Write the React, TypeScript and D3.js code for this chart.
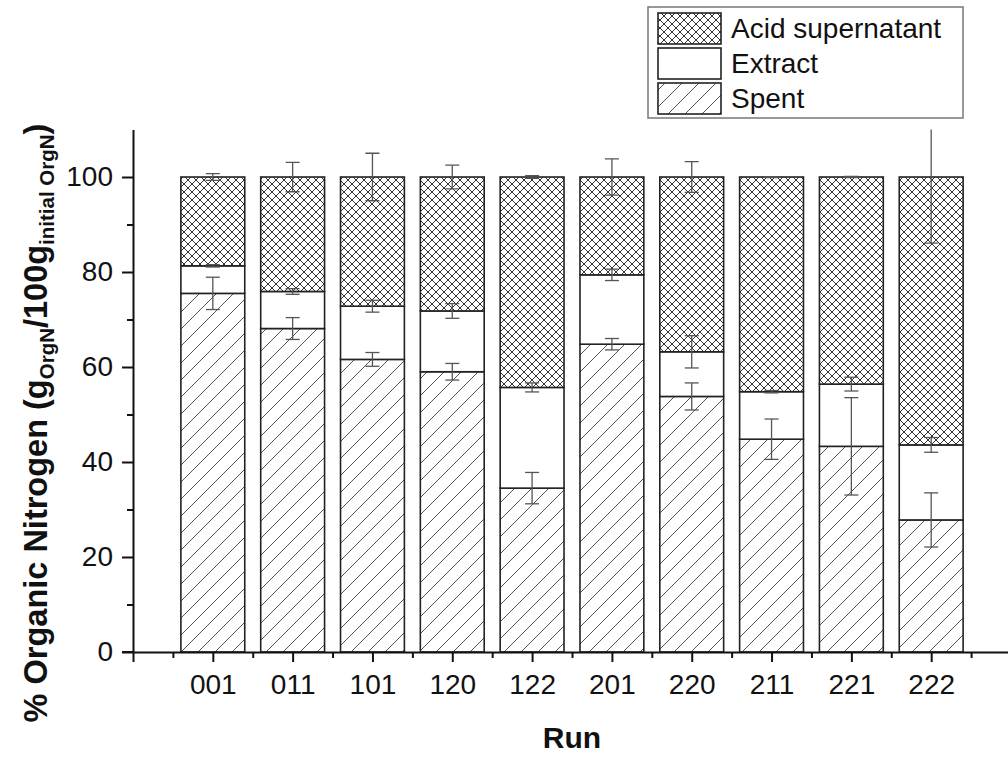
import React, { useEffect, useRef } from 'react';
import * as d3 from 'd3';

// runs on the x axis
const runs = ['001', '011', '101', '120', '122', '201', '220', '211', '221', '222'];

// segment heights, % of initial organic N
const spent = [75.5, 68.1, 61.6, 59.0, 34.5, 64.8, 53.8, 44.8, 43.3, 27.8];
const extract = [5.8, 7.8, 11.2, 12.8, 21.2, 14.6, 9.4, 10.0, 13.1, 15.8];
const acid = [18.7, 24.1, 27.2, 28.2, 44.3, 20.6, 36.8, 45.2, 43.6, 56.4];

// +/- error at the top of each segment
const spentErr = [3.4, 2.3, 1.45, 1.75, 3.3, 1.2, 2.85, 4.25, 10.25, 5.7];
const extractErr = [0.25, 0.6, 1.25, 1.55, 0.95, 1.2, 3.4, 0.25, 1.45, 1.55];
const acidErr = [0.7, 3.1, 5.0, 2.5, 0.3, 3.8, 3.25, 0.1, 0.15, 13.9];

const yTicks = [0, 20, 40, 60, 80, 100];
const yMinor = [10, 30, 50, 70, 90];

const seriesKeys = ['spent', 'extract', 'acid'];
const legendItems = [
  { key: 'acid', label: 'Acid supernatant' },
  { key: 'extract', label: 'Extract' },
  { key: 'spent', label: 'Spent' },
];

const FONT = 'Liberation Sans, Arial, Helvetica, sans-serif';

const App = () => {
  const svgRef = useRef<SVGSVGElement>(null);

  useEffect(() => {
    const svg = d3.select(svgRef.current);
    svg.selectAll('*').remove();

    const x = d3.scaleLinear().domain([0, 11]).range([133, 1011]);
    const y = d3.scaleLinear().domain([0, 110]).range([652, 129.5]);
    const barW = 0.8 * (x(1) - x(0));

    const fills: Record<string, string> = {
      spent: 'url(#hatch)',
      extract: '#fff',
      acid: 'url(#cross)',
    };

    const defs = svg.append('defs');
    const hatch = defs
      .append('pattern')
      .attr('id', 'hatch')
      .attr('patternUnits', 'userSpaceOnUse')
      .attr('width', 17)
      .attr('height', 17);
    hatch.append('rect').attr('width', 17).attr('height', 17).attr('fill', '#fff');
    hatch
      .append('path')
      .attr('d', 'M-4,21 L21,-4 M-4,4 L4,-4 M13,21 L21,13')
      .attr('stroke', '#555')
      .attr('stroke-width', 1);

    const cross = defs
      .append('pattern')
      .attr('id', 'cross')
      .attr('patternUnits', 'userSpaceOnUse')
      .attr('width', 8)
      .attr('height', 8);
    cross.append('rect').attr('width', 8).attr('height', 8).attr('fill', '#fff');
    cross
      .append('path')
      .attr('d', 'M-2,-2 L10,10 M-2,10 L10,-2')
      .attr('stroke', '#333')
      .attr('stroke-width', 1);

    defs
      .append('clipPath')
      .attr('id', 'plotclip')
      .append('rect')
      .attr('x', 133)
      .attr('y', y(110))
      .attr('width', 880)
      .attr('height', y(0) - y(110));

    const table = runs.map((r, i) => ({
      run: r,
      pos: i + 1,
      spent: spent[i],
      extract: extract[i],
      acid: acid[i],
    }));
    const stacked = d3.stack<any>().keys(seriesKeys)(table);

    // bars
    stacked.forEach(layer => {
      svg
        .append('g')
        .selectAll('rect')
        .data(layer)
        .enter()
        .append('rect')
        .attr('x', d => x(d.data.pos) - barW / 2)
        .attr('y', d => y(d[1]))
        .attr('width', barW)
        .attr('height', d => y(d[0]) - y(d[1]))
        .attr('fill', fills[layer.key])
        .attr('stroke', '#222')
        .attr('stroke-width', 1.6);
    });

    // error bars
    const errs: Record<string, number[]> = { spent: spentErr, extract: extractErr, acid: acidErr };
    const eg = svg.append('g').attr('clip-path', 'url(#plotclip)');
    stacked.forEach(layer => {
      const e = errs[layer.key];
      layer.forEach((d, i) => {
        const cx = x(d.data.pos);
        const top = d[1];
        const g = eg.append('g').attr('stroke', '#555').attr('stroke-width', 1.3);
        g.append('line')
          .attr('x1', cx)
          .attr('x2', cx)
          .attr('y1', y(top + e[i]))
          .attr('y2', y(top - e[i]));
        [top + e[i], top - e[i]].forEach(v => {
          g.append('line')
            .attr('x1', cx - 7)
            .attr('x2', cx + 7)
            .attr('y1', y(v))
            .attr('y2', y(v));
        });
      });
    });

    // y axis
    const yAxis = svg
      .append('g')
      .attr('transform', `translate(${x(0)},0)`)
      .call(d3.axisLeft(y).tickValues(yTicks).tickSize(11).tickSizeOuter(0).tickPadding(9));
    svg
      .append('g')
      .attr('transform', `translate(${x(0)},0)`)
      .call(d3.axisLeft(y).tickValues(yMinor).tickSize(6).tickFormat(() => ''))
      .select('.domain')
      .remove();

    // x axis
    const xAxis = svg
      .append('g')
      .attr('transform', `translate(0,${y(0)})`)
      .call(
        d3
          .axisBottom(x)
          .tickValues(d3.range(0, 12))
          .tickSize(10)
          .tickSizeOuter(0)
          .tickPadding(12)
          .tickFormat(d => {
            const i = +d;
            return i >= 1 && i <= 10 ? runs[i - 1] : '';
          })
      );
    svg
      .append('g')
      .attr('transform', `translate(0,${y(0)})`)
      .call(d3.axisBottom(x).tickValues(d3.range(0.5, 11, 1)).tickSize(6).tickFormat(() => ''))
      .select('.domain')
      .remove();

    svg.selectAll('.domain, .tick line').attr('stroke', '#111').attr('stroke-width', 2);
    [yAxis, xAxis].forEach(a =>
      a
        .selectAll('text')
        .attr('font-family', FONT)
        .attr('font-size', 28)
        .attr('fill', '#111')
    );
    // x axis line pokes out left of the y axis
    svg
      .append('line')
      .attr('x1', x(0) - 11)
      .attr('x2', x(0))
      .attr('y1', y(0))
      .attr('y2', y(0))
      .attr('stroke', '#111')
      .attr('stroke-width', 2);

    // axis titles
    const yl = svg
      .append('text')
      .attr('transform', `translate(47,423) rotate(-90)`)
      .attr('text-anchor', 'middle')
      .attr('font-family', FONT)
      .attr('font-weight', 'bold')
      .attr('font-size', 32.5)
      .attr('fill', '#111');
    yl.append('tspan').text('% Organic Nitrogen (g');
    yl.append('tspan').attr('font-size', 20.5).attr('dy', 7).text('OrgN');
    yl.append('tspan').attr('dy', -7).text('/100g');
    yl.append('tspan').attr('font-size', 20.5).attr('dy', 7).text('initial OrgN');
    yl.append('tspan').attr('dy', -7).text(')');

    svg
      .append('text')
      .attr('x', 572)
      .attr('y', 748)
      .attr('text-anchor', 'middle')
      .attr('font-family', FONT)
      .attr('font-weight', 'bold')
      .attr('font-size', 30)
      .attr('fill', '#111')
      .text('Run');

    // legend
    const lg = svg.append('g');
    lg.append('rect')
      .attr('x', 648)
      .attr('y', 7)
      .attr('width', 315)
      .attr('height', 111)
      .attr('fill', '#fff')
      .attr('stroke', '#777')
      .attr('stroke-width', 1.5);
    legendItems.forEach((it, i) => {
      const ry = 13 + i * 35;
      lg.append('rect')
        .attr('x', 658)
        .attr('y', ry)
        .attr('width', 63)
        .attr('height', 31)
        .attr('fill', fills[it.key])
        .attr('stroke', '#222')
        .attr('stroke-width', 1.6);
      lg.append('text')
        .attr('x', 731)
        .attr('y', ry + 25)
        .attr('font-family', FONT)
        .attr('font-size', 28)
        .attr('fill', '#111')
        .text(it.label);
    });
  }, []);

  return (
    <svg
      ref={svgRef}
      width={1008}
      height={758}
      style={{ position: 'absolute', left: 0, top: 0, background: '#fff' }}
    />
  );
};

export default App;
